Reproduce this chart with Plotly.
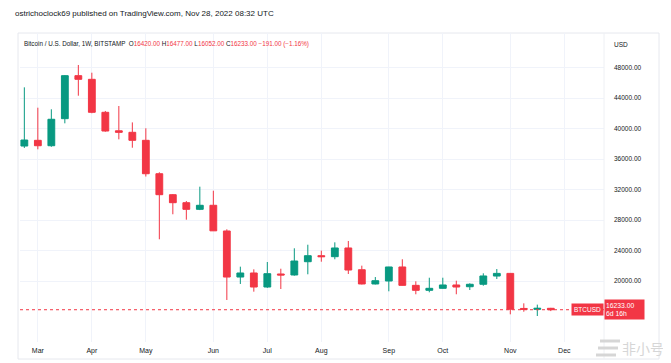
import plotly.graph_objects as go

# ---------------- data ----------------
week_dates = [
    "2022-02-28", "2022-03-07", "2022-03-14", "2022-03-21", "2022-03-28",
    "2022-04-04", "2022-04-11", "2022-04-18", "2022-04-25", "2022-05-02",
    "2022-05-09", "2022-05-16", "2022-05-23", "2022-05-30", "2022-06-06",
    "2022-06-13", "2022-06-20", "2022-06-27", "2022-07-04", "2022-07-11",
    "2022-07-18", "2022-07-25", "2022-08-01", "2022-08-08", "2022-08-15",
    "2022-08-22", "2022-08-29", "2022-09-05", "2022-09-12", "2022-09-19",
    "2022-09-26", "2022-10-03", "2022-10-10", "2022-10-17", "2022-10-24",
    "2022-10-31", "2022-11-07", "2022-11-14", "2022-11-21", "2022-11-28",
]
open_ = [
    37700, 38450, 37740, 41290, 46930, 46450, 42125, 39700, 39500, 38450,
    34070, 31320, 30270, 29400, 29930, 26560, 20520, 21050, 19210, 20920,
    20790, 22530, 23320, 23190, 24330, 21480, 19610, 20000, 21840, 19430,
    18780, 19040, 19480, 19250, 19570, 20650, 21000, 16400, 16280, 16420,
]
high = [
    45400, 42730, 42520, 47000, 48330, 47320, 42300, 42950, 40800, 40030,
    34260, 31400, 30490, 32370, 31840, 26780, 21880, 21530, 22490, 21610,
    24290, 24760, 23980, 25070, 25250, 22010, 20520, 21860, 22850, 19960,
    20430, 20430, 20040, 19700, 21010, 21570, 21050, 17070, 16900, 16477,
]
low = [
    37450, 37270, 37600, 40680, 44300, 42000, 39580, 38580, 37480, 33700,
    25470, 28750, 28040, 29300, 26560, 17510, 19610, 18600, 19100, 18950,
    20700, 20880, 22530, 22850, 20920, 19550, 19550, 18650, 19400, 18260,
    18520, 19000, 18260, 18820, 19380, 20260, 15630, 15970, 15410, 16052,
]
close = [
    38490, 37740, 41210, 46930, 46450, 42125, 39670, 39500, 38450, 34070,
    31320, 30270, 29400, 29930, 26580, 20520, 21050, 19210, 20960, 20790,
    22620, 23320, 23190, 24330, 21440, 19610, 20040, 21840, 19430, 18780,
    19040, 19480, 19210, 19570, 20660, 21000, 16290, 16280, 16420, 16233,
]
month_labels = ["Mar", "Apr", "May", "Jun", "Jul", "Aug", "Sep", "Oct", "Nov", "Dec"]
month_bar_dates = ["2022-03-07", "2022-04-04", "2022-05-02", "2022-06-06", "2022-07-04",
                   "2022-08-01", "2022-09-05", "2022-10-03", "2022-11-07", "2022-12-05"]
price_ticks = [20000, 24000, 28000, 32000, 36000, 40000, 44000, 48000]
last_price = 16233.00

GREEN = "#089981"
RED = "#F23645"
TXT = "#131722"
GRID = "#f0f3fa"
WM = "#d6d6d6"
FONT = "Liberation Sans, Arial, sans-serif"

# page is 671x363; the html body adds an 8px margin, so the figure is drawn 8px smaller
OFF = 8
W, H = 671 - OFF, 363 - OFF
# plot area in page pixels: x 20..604, y 33..342
PL, PR, PT, PB = 20, 604, 33, 342
L, R, T, B = PL - OFF, W - (PR - OFF), PT - OFF, H - (PB - OFF)
PW, PH = PR - PL, PB - PT


def px(xp):  # page x -> paper
    return (xp - PL) / PW


def py(yp):  # page y -> paper
    return (PB - yp) / PH


fig = go.Figure(go.Candlestick(
    x=week_dates, open=open_, high=high, low=low, close=close,
    increasing=dict(line=dict(color=GREEN, width=1), fillcolor=GREEN),
    decreasing=dict(line=dict(color=RED, width=1), fillcolor=RED),
    whiskerwidth=0, showlegend=False, hoverinfo="skip",
))

fig.update_layout(
    width=W, height=H,
    margin=dict(l=L, r=R, t=T, b=B, pad=0, autoexpand=False),
    paper_bgcolor="white", plot_bgcolor="white",
    font=dict(family=FONT, size=7, color=TXT),
    boxgap=0.28,
    showlegend=False,
)
fig.update_xaxes(
    type="date",
    range=["2022-02-25 18:00", "2022-12-25 14:00"],
    tickvals=month_bar_dates, ticktext=month_labels,
    showgrid=True, gridcolor=GRID, gridwidth=1,
    zeroline=False, showline=False, ticks="",
    ticklabelstandoff=3,
    rangeslider=dict(visible=False),
    tickfont=dict(size=7, color=TXT),
)
fig.update_yaxes(
    side="right",
    range=[12000, 52525],
    tickvals=price_ticks, ticktext=[f"{v:.2f}" for v in price_ticks],
    showgrid=True, gridcolor=GRID, gridwidth=1,
    zeroline=False, showline=False, ticks="",
    ticklabelstandoff=9,
    tickfont=dict(size=6.5, color=TXT),
)

shapes = [
    dict(type="rect", xref="paper", yref="paper", x0=px(18), x1=px(659), y0=py(359), y1=py(33),
         line=dict(color="#e6e8ee", width=1), fillcolor="rgba(0,0,0,0)", layer="below"),
    dict(type="line", xref="paper", yref="paper", x0=1, x1=1, y0=py(359), y1=py(33),
         line=dict(color="#eef0f4", width=1)),
    dict(type="line", xref="paper", yref="y", x0=0, x1=1, y0=last_price, y1=last_price,
         line=dict(color=RED, width=1, dash="dot")),
]
# watermark logo: three grey bars
for y_pg, x0_pg, x1_pg in [(341, 600, 620), (348, 598, 618), (355, 596, 616)]:
    shapes.append(dict(type="line", xref="paper", yref="paper",
                       x0=px(x0_pg), x1=px(x1_pg), y0=py(y_pg), y1=py(y_pg),
                       line=dict(color=WM, width=3)))
fig.update_layout(shapes=shapes)

red_span = lambda s: f"<span style='color:{RED}'>{s}</span>"
legend_text = ("Bitcoin / U.S. Dollar, 1W, BITSTAMP&nbsp;&nbsp;"
               f"O{red_span('16420.00')} H{red_span('16477.00')} "
               f"L{red_span('16052.00')} C{red_span('16233.00')} "
               f"{red_span('−191.00 (−1.16%)')}")

annotations = [
    dict(text="ostrichoclock69 published on TradingView.com, Nov 28, 2022 08:32 UTC",
         xref="paper", yref="paper", x=px(13), y=py(13), xanchor="left", yanchor="middle",
         showarrow=False, font=dict(size=8, color=TXT)),
    dict(text=legend_text, xref="paper", yref="paper", x=px(22), y=py(44),
         xanchor="left", yanchor="middle", showarrow=False, font=dict(size=6.3, color=TXT)),
    dict(text="USD", xref="paper", yref="paper", x=px(612), y=py(44),
         xanchor="left", yanchor="middle", showarrow=False, font=dict(size=6.5, color=TXT)),
    dict(text="BTCUSD", xref="paper", yref="y", x=1, y=last_price,
         xanchor="right", yanchor="middle", showarrow=False, bgcolor=RED,
         borderpad=2, font=dict(size=6.5, color="white")),
    dict(text=f"{last_price:.2f}<br>6d 16h", xref="paper", yref="y", x=1, y=last_price,
         xanchor="left", yanchor="middle", align="left", showarrow=False, bgcolor=RED,
         width=37, height=17, borderpad=1, font=dict(size=6.8, color="white")),
    dict(text="非小号", xref="paper", yref="paper", x=px(666), y=py(348),
         xanchor="right", yanchor="middle", showarrow=False,
         font=dict(family="Noto Sans CJK SC", size=14, color=WM)),
]
fig.update_layout(annotations=annotations)

fig.write_html("out.html")
